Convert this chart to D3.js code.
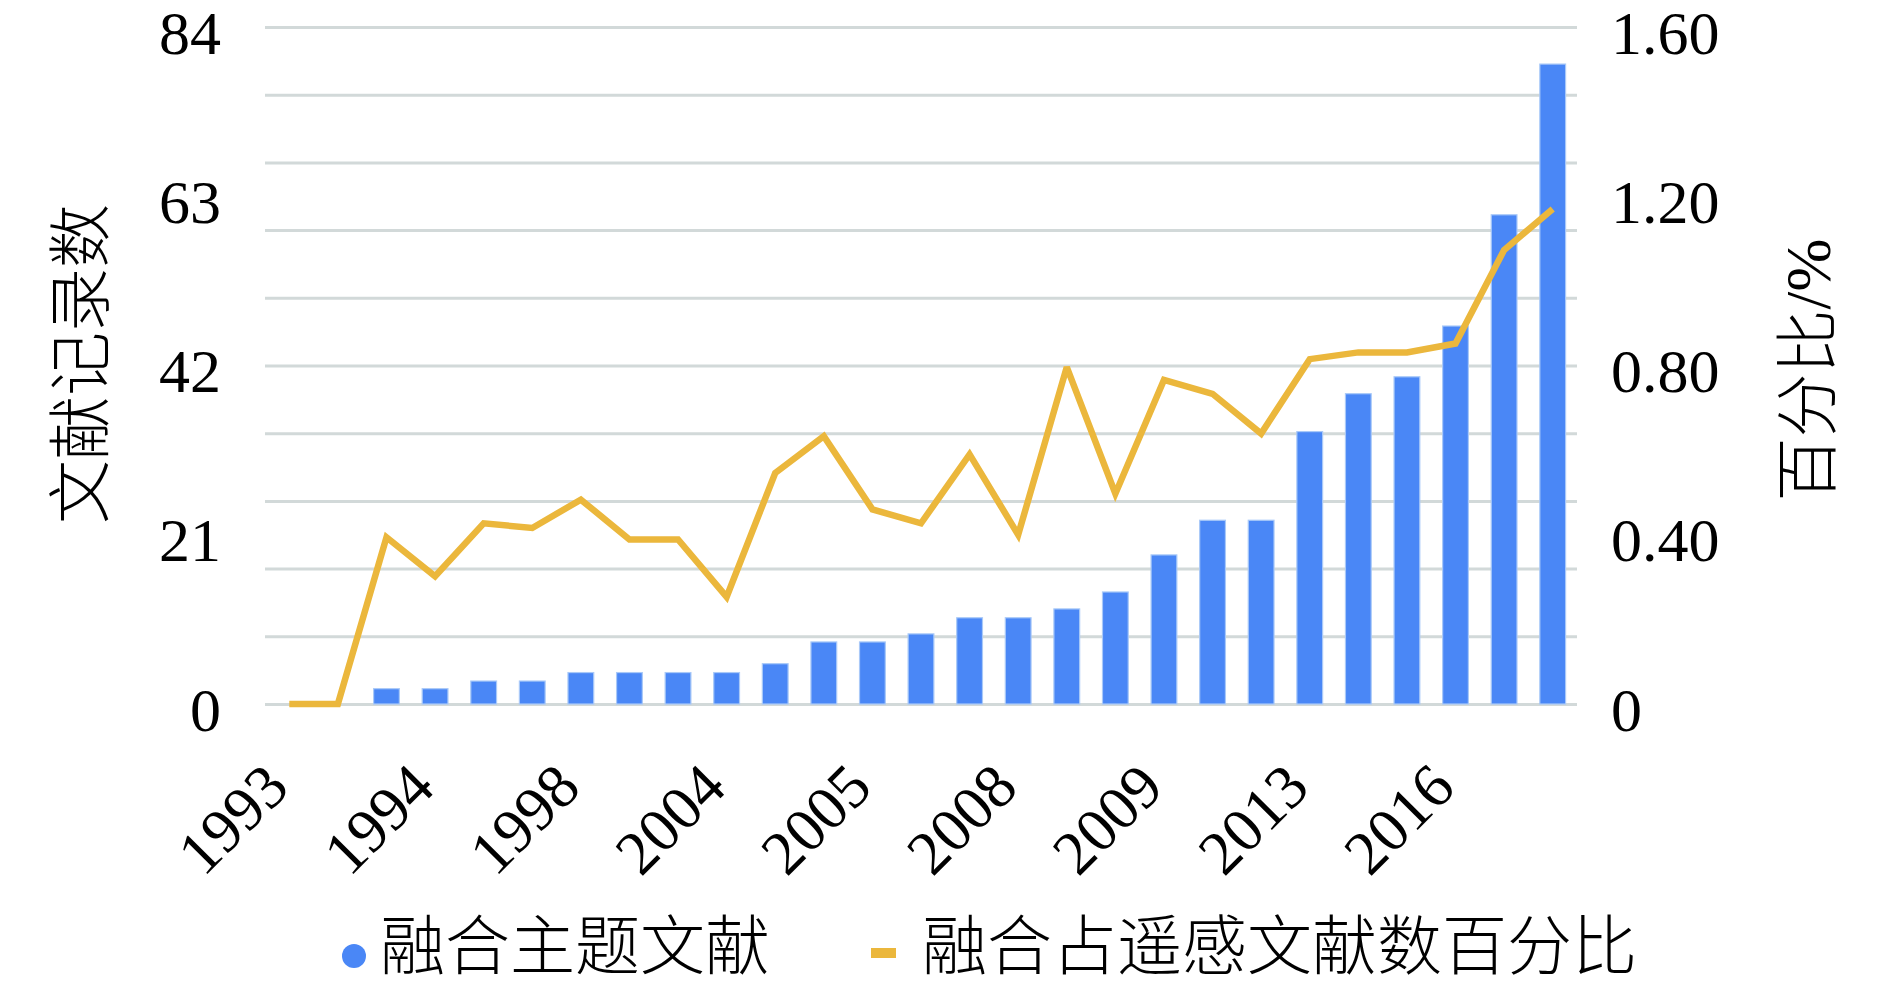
<!DOCTYPE html>
<html>
<head>
<meta charset="utf-8">
<script src="https://cdn.jsdelivr.net/npm/d3@7"></script>
<style>
  html, body { margin: 0; padding: 0; background: #ffffff; }
  svg { display: block; }
</style>
</head>
<body>
<svg id="chart" width="1890" height="987"></svg>
<script>
// ---- data ----
const xTickLabels = ["1993", "1994", "1998", "2004", "2005", "2008", "2009", "2013", "2016"];
const xTickEvery = 3;
const docCounts = [0, 0, 1.9, 1.9, 2.85, 2.85, 3.9, 3.9, 3.9, 3.9, 5.0, 7.7, 7.7, 8.7,
                   10.7, 10.7, 11.8, 13.9, 18.5, 22.8, 22.8, 33.8, 38.5, 40.6, 46.9, 60.7, 79.4];
const percents = [0, 0, 0.394, 0.302, 0.427, 0.416, 0.483, 0.389, 0.389, 0.253, 0.546, 0.633,
                  0.46, 0.427, 0.59, 0.40, 0.796, 0.497, 0.766, 0.733, 0.639, 0.815, 0.831,
                  0.831, 0.852, 1.073, 1.17];
const leftTicks = [0, 21, 42, 63, 84];
const rightTicks = [0, 0.4, 0.8, 1.2, 1.6];
const rightTickLabels = ["0", "0.40", "0.80", "1.20", "1.60"];
const gridValues = [0, 8.4, 16.8, 25.2, 33.6, 42, 50.4, 58.8, 67.2, 75.6, 84];
const seriesNames = ["融合主题文献", "融合占遥感文献数百分比"];
const leftTitle = "文献记录数";
const rightTitle = "百分比/%";

// ---- layout ----
const plot = { left: 265, right: 1577, top: 27, bottom: 704 };
const BAR = "#4a87f6", LINE = "#ebb73c", GRID = "#d2d9d9";
const SERIF = "'Liberation Serif', 'Noto Sans CJK SC', serif";
const CJK = "'Liberation Serif', 'Noto Sans CJK SC', sans-serif";

const svg = d3.select("#chart");
const n = docCounts.length;
const idx = d3.range(n);

const x = d3.scaleBand().domain(idx).range([plot.left, plot.right])
  .paddingInner(0.47).paddingOuter(0.235);
const yL = d3.scaleLinear().domain([0, 84]).range([plot.bottom, plot.top]);
const yR = d3.scaleLinear().domain([0, 1.6]).range([plot.bottom, plot.top]);
const cx = i => x(i) + x.bandwidth() / 2;

// gridlines
const grid = svg.append("g").attr("transform", `translate(${plot.left},0)`)
  .call(d3.axisLeft(yL).tickValues(gridValues).tickSize(-(plot.right - plot.left)).tickFormat(""));
grid.select(".domain").remove();
grid.selectAll("line").attr("stroke", GRID).attr("stroke-width", 3);

// bars
svg.append("g").selectAll("rect").data(idx.filter(i => docCounts[i] > 0)).join("rect")
  .attr("x", i => x(i))
  .attr("width", x.bandwidth())
  .attr("y", i => yL(docCounts[i]))
  .attr("height", i => yL(0) - yL(docCounts[i]))
  .attr("fill", BAR)
  .attr("stroke", "#a9c9f8").attr("stroke-width", 1.2);

// line
const line = d3.line().x(i => cx(i)).y(i => yR(percents[i]));
svg.append("path").datum(idx).attr("d", line)
  .attr("fill", "none").attr("stroke", LINE).attr("stroke-width", 6.5)
  .attr("stroke-linejoin", "miter").attr("stroke-miterlimit", 3);

// left axis
const ax1 = svg.append("g").attr("transform", `translate(${plot.left - 44},0)`)
  .call(d3.axisLeft(yL).tickValues(leftTicks).tickSize(0).tickPadding(0));
ax1.select(".domain").remove();
ax1.selectAll("text").attr("font-family", SERIF).attr("font-size", 62)
  .attr("fill", "#000").attr("dy", "0.42em");

// right axis
const ax2 = svg.append("g").attr("transform", `translate(${plot.right + 34},0)`)
  .call(d3.axisRight(yR).tickValues(rightTicks).tickSize(0).tickPadding(0)
    .tickFormat((d, i) => rightTickLabels[i]));
ax2.select(".domain").remove();
ax2.selectAll("text").attr("font-family", SERIF).attr("font-size", 62)
  .attr("fill", "#000").attr("dy", "0.42em").attr("text-anchor", "start");

// x axis
const xTickIdx = xTickLabels.map((_, k) => k * xTickEvery);
const ax3 = svg.append("g").attr("transform", `translate(0,${plot.bottom})`)
  .call(d3.axisBottom(x).tickValues(xTickIdx).tickSize(0)
    .tickFormat(i => xTickLabels[i / xTickEvery]));
ax3.select(".domain").remove();
ax3.selectAll(".tick text")
  .attr("font-family", SERIF).attr("font-size", 62).attr("fill", "#000")
  .attr("text-anchor", "end").attr("dy", null).attr("y", null)
  .attr("transform", "translate(2,86) rotate(-45)");

// axis titles
svg.append("text").attr("transform", "translate(81,364) rotate(-90)")
  .attr("text-anchor", "middle").attr("dominant-baseline", "central")
  .attr("font-family", CJK).attr("font-size", 64).attr("font-weight", 300).text(leftTitle);
svg.append("text").attr("transform", "translate(1808,370) rotate(-90)")
  .attr("text-anchor", "middle").attr("dominant-baseline", "central")
  .attr("font-family", CJK).attr("font-size", 64).attr("font-weight", 300).text(rightTitle);

// legend
const lg = svg.append("g");
lg.append("circle").attr("cx", 354).attr("cy", 956).attr("r", 12).attr("fill", BAR);
lg.append("text").attr("x", 380).attr("y", 947).attr("dominant-baseline", "central")
  .attr("font-family", CJK).attr("font-size", 65).attr("font-weight", 300).text(seriesNames[0]);
lg.append("rect").attr("x", 871).attr("y", 948).attr("width", 25).attr("height", 10).attr("fill", LINE);
lg.append("text").attr("x", 922).attr("y", 947).attr("dominant-baseline", "central")
  .attr("font-family", CJK).attr("font-size", 65).attr("font-weight", 300).text(seriesNames[1]);
</script>
</body>
</html>
